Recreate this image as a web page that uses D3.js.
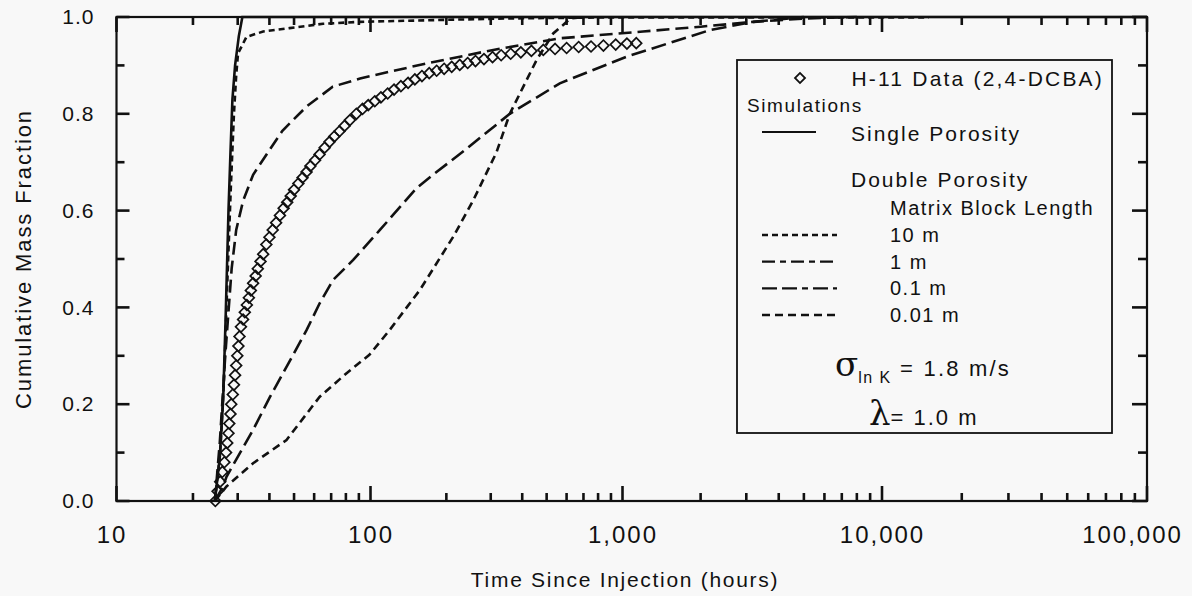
<!DOCTYPE html>
<meta charset="utf-8">
<body style="margin:0;background:#f8f8f8">
<script src="https://cdn.jsdelivr.net/npm/d3@7"></script>
<script>
var W = 1192, H = 596;

// axis ticks and labels
var xDecades = [10, 100, 1000, 10000, 100000];
var xLabels = ["10", "100", "1,000", "10,000", "100,000"];
var yTicks = [0, 0.2, 0.4, 0.6, 0.8, 1.0];
var yLabels = ["0.0", "0.2", "0.4", "0.6", "0.8", "1.0"];

// H-11 field data, 2,4-DCBA  [hours, cumulative mass fraction]
var h11Data = [[24.5,0.0],[25.0,0.02],[25.6,0.04],[26.1,0.06],[26.6,0.08],[27.0,0.10],[27.3,0.12],[27.6,0.14],
  [27.8,0.16],[28.1,0.18],[28.3,0.20],[28.7,0.22],[29.0,0.24],[29.3,0.26],[29.6,0.28],[29.9,0.30],[30.2,0.32],
  [30.5,0.34],[30.9,0.36],[31.5,0.375],[32.0,0.39],[32.6,0.405],[33.2,0.42],[33.8,0.435],[34.5,0.45],[35.3,0.465],
  [36.0,0.48],[36.9,0.495],[37.8,0.51],[38.9,0.53],[40.0,0.545],[41.2,0.56],[42.5,0.575],[44.0,0.59],[45.5,0.605],
  [47.0,0.617],[48.5,0.63],[50.0,0.643],[52.0,0.656],[54.0,0.668],[56.0,0.68],[58.0,0.692],[60.5,0.704],[63.0,0.716],
  [66.0,0.73],[69.0,0.742],[72.0,0.753],[75.5,0.764],[79.0,0.775],[83.0,0.787],[88.0,0.80],[93.0,0.81],[98.0,0.818],
  [104,0.826],[110,0.834],[117,0.842],[124,0.85],[132,0.857],[141,0.864],[150,0.871],[160,0.878],[171,0.884],
  [183,0.889],[196,0.893],[210,0.897],[226,0.901],[243,0.905],[261,0.909],[282,0.913],[305,0.917],[330,0.921],
  [360,0.924],[395,0.927],[435,0.93],[485,0.932],[540,0.934],[600,0.936],[670,0.938],[750,0.939],[840,0.941],
  [940,0.943],[1040,0.945],[1130,0.946]];

// simulations
var singlePor = [[24.4,0],[25.5,0.09],[26.3,0.21],[26.9,0.38],[27.6,0.6],[28.1,0.72],[28.6,0.83],[29.3,0.9],
  [30.3,0.96],[31.3,1.0],[100000,1.0]];
var dbl10m = [[24.4,0],[25.6,0.1],[26.5,0.25],[27.3,0.45],[28.2,0.65],[29.0,0.8],[29.6,0.88],[30.1,0.925],
  [32.5,0.959],[37.8,0.97],[48,0.977],[65,0.986],[91,0.99],[194,0.994],[357,0.997],[800,0.999],[15000,0.999]];
var dbl1m = [[24.4,0],[25.5,0.12],[26.8,0.3],[28.4,0.48],[29.6,0.56],[31.5,0.62],[34.5,0.674],[40,0.725],
  [45,0.765],[56,0.815],[71,0.856],[91,0.873],[119,0.887],[167,0.904],[307,0.932],[564,0.956],[1200,0.97],
  [2000,0.98],[3200,0.99],[5000,0.997],[8000,1.0]];
var dbl01m = [[24.4,0],[26.3,0.03],[27.1,0.05],[34.5,0.147],[40.2,0.215],[46.7,0.277],[56,0.353],[63,0.408],
  [71.3,0.457],[85.5,0.498],[109,0.56],[152,0.646],[180,0.677],[237,0.725],[357,0.80],[564,0.863],[1036,0.918],
  [2174,0.973],[3190,0.99],[5000,1.0]];
var dbl001m = [[24.4,0],[27.1,0.03],[34.5,0.078],[46.7,0.126],[63,0.215],[80.5,0.264],[99,0.302],[119,0.353],
  [157,0.436],[213,0.546],[255,0.62],[316,0.72],[357,0.80],[456,0.911],[531,0.966],[580,0.983],[620,0.997],[700,1.0]];

var series = [
  {data: dbl10m, dash: "6,4"},
  {data: dbl1m, dash: "13,6"},
  {data: dbl01m, dash: "15,6"},
  {data: dbl001m, dash: "8,5"},
  {data: singlePor, dash: null}
];
var legendRows = [
  {label: "10 m", dash: "6,4"},
  {label: "1 m", dash: "13,5,6,5"},
  {label: "0.1 m", dash: "15,5,15,5,6,5"},
  {label: "0.01 m", dash: "8,5"}
];

var svg = d3.select("body").append("svg").attr("width", W).attr("height", H)
  .style("font-family", "'Liberation Sans', Arial, sans-serif");
svg.append("rect").attr("width", W).attr("height", H).attr("fill", "#f8f8f8");

// scanned axis is slightly uneven from decade to decade
var x = d3.scaleLog().domain(xDecades).range([116.5, 370.5, 622.5, 882, 1147]);
var y = d3.scaleLinear().domain([0, 1]).range([501, 17]);
var x0 = x.range()[0], x1 = x.range()[4], y0 = y.range()[0], y1 = y.range()[1];

var allX = x.ticks();
var minorX = allX.filter(function(d){ return xDecades.indexOf(d) < 0; });
var minorY = y.ticks(10).filter(function(d){ return Math.round(d*10) % 2 == 1; });

// frame
svg.append("rect").attr("x", x0).attr("y", y1).attr("width", x1 - x0).attr("height", y0 - y1)
  .attr("fill", "none").attr("stroke", "#111").attr("stroke-width", 2.2);

// inward tick marks on all four sides
var tk = svg.append("g").attr("stroke", "#111").attr("stroke-width", 2.6);
function xTicks(vals, yb, len) {
  tk.append("g").selectAll("line").data(vals).enter().append("line")
    .attr("x1", function(d){ return x(d); }).attr("x2", function(d){ return x(d); })
    .attr("y1", yb).attr("y2", yb + len);
}
function yTicksAt(vals, xb, len) {
  tk.append("g").selectAll("line").data(vals).enter().append("line")
    .attr("y1", function(d){ return y(d); }).attr("y2", function(d){ return y(d); })
    .attr("x1", xb).attr("x2", xb + len);
}
xTicks(minorX, y0, -8); xTicks(xDecades, y0, -15);
xTicks(minorX, y1, 8);  xTicks(xDecades, y1, 15);
yTicksAt(minorY, x0, 8); yTicksAt(yTicks, x0, 13);
yTicksAt(minorY, x1, -9); yTicksAt(yTicks, x1, -15);

// tick labels
var xa = svg.append("g").attr("transform", "translate(0," + y0 + ")")
  .call(d3.axisBottom(x).tickValues(xDecades).tickSize(0).tickPadding(25)
    .tickFormat(function(d, i){ return xLabels[i]; }));
xa.select(".domain").remove();
xa.selectAll("text").attr("font-size", 24).attr("letter-spacing", 2).attr("fill", "#111")
  .attr("font-family", "'Liberation Sans', Arial, sans-serif")
  .attr("dx", function(d, i){ return i == 0 ? -5 : (i == xDecades.length-1 ? -15 : 0); });

var ya = svg.append("g").attr("transform", "translate(" + x0 + ",0)")
  .call(d3.axisLeft(y).tickValues(yTicks).tickSize(0).tickPadding(22)
    .tickFormat(function(d, i){ return yLabels[i]; }));
ya.select(".domain").remove();
ya.selectAll("text").attr("font-size", 21).attr("letter-spacing", 1).attr("fill", "#111")
  .attr("font-family", "'Liberation Sans', Arial, sans-serif");

// data diamonds
svg.append("g").selectAll("path").data(h11Data).enter().append("path")
  .attr("d", d3.symbol(d3.symbolSquare, 58))
  .attr("transform", function(d){ return "translate(" + x(d[0]) + "," + y(d[1]) + ") rotate(45)"; })
  .attr("fill", "none").attr("stroke", "#111").attr("stroke-width", 1.7);

// simulation curves
var line = d3.line().x(function(d){ return x(d[0]); }).y(function(d){ return y(d[1]); });
svg.append("g").selectAll("path").data(series).enter().append("path")
  .attr("d", function(d){ return line(d.data); })
  .attr("fill", "none").attr("stroke", "#111").attr("stroke-width", 2.6)
  .attr("stroke-dasharray", function(d){ return d.dash; });

// legend
var lg = svg.append("g").attr("font-size", 21).attr("fill", "#111");
lg.append("rect").attr("x", 737).attr("y", 60).attr("width", 375).attr("height", 373)
  .attr("fill", "#f8f8f8").attr("stroke", "#111").attr("stroke-width", 1.8);
lg.append("path").attr("d", d3.symbol(d3.symbolSquare, 50))
  .attr("transform", "translate(800,78) rotate(45)")
  .attr("fill", "none").attr("stroke", "#111").attr("stroke-width", 1.8);
lg.append("text").attr("x", 1104).attr("y", 86).attr("text-anchor", "end").attr("letter-spacing", 2.2)
  .text("H-11 Data (2,4-DCBA)");
lg.append("text").attr("x", 747).attr("y", 112).attr("font-size", 19).attr("letter-spacing", 1.6).text("Simulations");
lg.append("line").attr("x1", 762).attr("x2", 816).attr("y1", 132).attr("y2", 132)
  .attr("stroke", "#111").attr("stroke-width", 2);
lg.append("text").attr("x", 851).attr("y", 141).attr("letter-spacing", 2).text("Single Porosity");
lg.append("text").attr("x", 851).attr("y", 187).attr("letter-spacing", 2).text("Double Porosity");
lg.append("text").attr("x", 890).attr("y", 215).attr("font-size", 20).attr("letter-spacing", 1.5).text("Matrix Block Length");

var rowY = d3.scalePoint().domain(legendRows.map(function(d){ return d.label; })).range([242, 322]);
var rows = lg.selectAll("g.row").data(legendRows).enter().append("g").attr("class", "row");
rows.append("line").attr("x1", 762).attr("x2", 837)
  .attr("y1", function(d){ return rowY(d.label) - 7; }).attr("y2", function(d){ return rowY(d.label) - 7; })
  .attr("stroke", "#111").attr("stroke-width", 2.4).attr("stroke-dasharray", function(d){ return d.dash; });
rows.append("text").attr("x", 890).attr("y", function(d){ return rowY(d.label); })
  .attr("font-size", 20).attr("letter-spacing", 1.5).text(function(d){ return d.label; });

var sig = lg.append("text").attr("x", 835).attr("y", 376);
sig.append("tspan").attr("font-family", "'DejaVu Serif', serif").attr("font-size", 34).text("σ");
sig.append("tspan").attr("font-size", 16).attr("letter-spacing", 1.5).attr("dy", 7).text("ln K");
sig.append("tspan").attr("font-size", 22).attr("letter-spacing", 2.2).attr("dy", -7).text(" = 1.8 m/s");

var lam = lg.append("text").attr("x", 869).attr("y", 425);
lam.append("tspan").attr("font-family", "'DejaVu Serif', serif").attr("font-size", 34).text("λ");
lam.append("tspan").attr("font-size", 22).attr("letter-spacing", 2).text("= 1.0 m");

// axis titles
svg.append("text").attr("x", 625).attr("y", 587).attr("text-anchor", "middle")
  .attr("font-size", 21).attr("letter-spacing", 1.7).attr("fill", "#111")
  .text("Time Since Injection (hours)");
svg.append("text").attr("transform", "translate(31,259) rotate(-90)").attr("text-anchor", "middle")
  .attr("font-size", 22).attr("letter-spacing", 1.9).attr("fill", "#111")
  .text("Cumulative Mass Fraction");
</script>
</body>
